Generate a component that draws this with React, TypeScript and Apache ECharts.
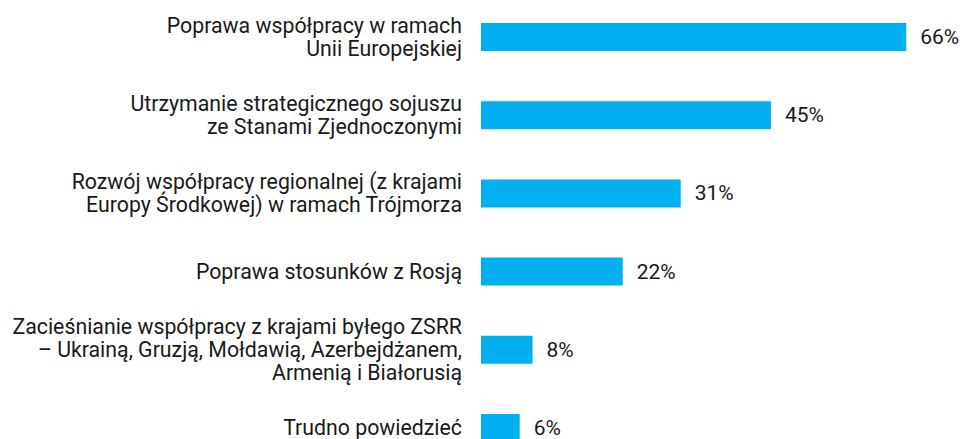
import React, { useEffect, useRef } from "react";
import * as echarts from "echarts";

const categories: string[] = [
  "Poprawa współpracy w ramach\nUnii Europejskiej",
  "Utrzymanie strategicznego sojuszu\nze Stanami Zjednoczonymi",
  "Rozwój współpracy regionalnej (z krajami\nEuropy Środkowej) w ramach Trójmorza",
  "Poprawa stosunków z Rosją",
  "Zacieśnianie współpracy z krajami byłego ZSRR\n– Ukrainą, Gruzją, Mołdawią, Azerbejdżanem,\nArmenią i Białorusią",
  "Trudno powiedzieć",
];
const values: number[] = [66, 45, 31, 22, 8, 6];

export default function App() {
  const ref = useRef<HTMLDivElement>(null);
  useEffect(() => {
    if (!ref.current) return;
    const chart = echarts.init(ref.current, undefined, { renderer: "svg" });
    chart.setOption({
      animation: false,
      backgroundColor: "#ffffff",
      textStyle: { fontFamily: "Roboto" },
      grid: { left: 481, top: 0, width: 451, height: 469, containLabel: false },
      xAxis: {
        type: "value",
        min: 0,
        max: 70,
        show: false,
      },
      yAxis: {
        type: "category",
        data: categories,
        inverse: true,
        axisLine: { show: false },
        axisTick: { show: false },
        splitLine: { show: false },
        axisLabel: {
          margin: 19,
          fontFamily: "Roboto",
          fontSize: 21.3,
          lineHeight: 23,
          color: "#1a1a1a",
          align: "right",
        },
      },
      series: [
        {
          type: "bar",
          data: values,
          barWidth: 28,
          itemStyle: { color: "#00B0F0" },
          label: {
            show: true,
            position: "right",
            distance: 14,
            formatter: "{c}%",
            fontFamily: "Roboto",
            fontSize: 21,
            color: "#1a1a1a",
          },
        },
      ],
    });
    return () => chart.dispose();
  }, []);
  return (
    <div
      ref={ref}
      style={{ position: "fixed", left: 0, top: -2, width: 963, height: 471 }}
    />
  );
}
